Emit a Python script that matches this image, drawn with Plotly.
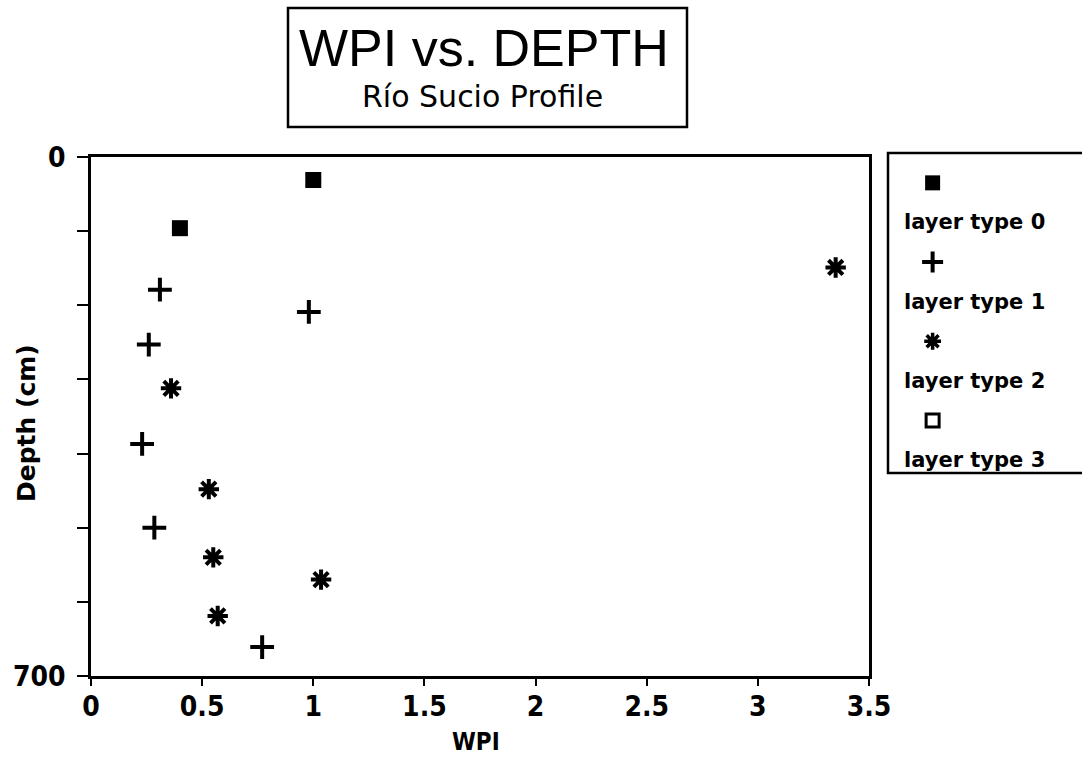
import plotly.graph_objects as go

W, H = 1082, 757

# ---- data (WPI, depth in cm) ----
t0_wpi = [1.00, 0.40]
t0_depth = [31, 96]
t1_wpi = [0.31, 0.98, 0.26, 0.23, 0.285, 0.77]
t1_depth = [179, 209, 253, 387, 500, 661]
t2_wpi = [3.35, 0.36, 0.53, 0.55, 1.035, 0.57]
t2_depth = [149, 312, 448, 540, 570, 619]
t3_wpi = []
t3_depth = []

legend_labels = ["layer type 0", "layer type 1", "layer type 2", "layer type 3"]
x_tickvals = [0, 0.5, 1, 1.5, 2, 2.5, 3, 3.5]
x_ticktext = ["0", "0.5", "1", "1.5", "2", "2.5", "3", "3.5"]
y_tickvals = [0, 100, 200, 300, 400, 500, 600, 700]
y_ticktext = ["0", "", "", "", "", "", "", "700"]

def px(x):
    return x / W

def py(y):
    return 1 - y / H

BOLD = dict(family="DejaVu Sans Condensed, DejaVu Sans", weight="bold", color="black")

fig = go.Figure()

fig.add_trace(go.Scatter(x=t0_wpi, y=t0_depth, mode="markers",
                         marker=dict(symbol="square", size=16, color="black"),
                         showlegend=False))
fig.add_trace(go.Scatter(x=t1_wpi, y=t1_depth, mode="markers",
                         marker=dict(symbol="cross-thin", size=17, color="black",
                                     line=dict(width=4, color="black")),
                         showlegend=False))
fig.add_trace(go.Scatter(x=t2_wpi, y=t2_depth, mode="markers",
                         marker=dict(symbol="asterisk", size=17, color="black",
                                     line=dict(width=4, color="black")),
                         showlegend=False))
fig.add_trace(go.Scatter(x=t3_wpi, y=t3_depth, mode="markers",
                         marker=dict(symbol="square-open", size=14, color="black",
                                     line=dict(width=3, color="black")),
                         showlegend=False))

# ---- manual legend (symbol above label) ----
rows = list(range(len(legend_labels)))
sym_specs = [
    dict(symbol="square", size=15, color="black"),
    dict(symbol="cross-thin", size=15, color="black", line=dict(width=4, color="black")),
    dict(symbol="asterisk", size=14, color="black", line=dict(width=3.5, color="black")),
    dict(symbol="square-open", size=13, color="black", line=dict(width=3, color="black")),
]
for i, spec in zip(rows, sym_specs):
    fig.add_trace(go.Scatter(x=[0.23], y=[i], mode="markers", marker=spec,
                             xaxis="x2", yaxis="y2", showlegend=False, hoverinfo="skip"))

for i, lab in zip(rows, legend_labels):
    fig.add_annotation(x=px(902), y=i + 0.5, xref="paper", yref="y2",
                       text=lab, showarrow=False, xanchor="left", yanchor="middle",
                       font=dict(family="DejaVu Sans", weight="bold", size=21, color="black"))

shapes = [
    # title box
    dict(type="rect", xref="paper", yref="paper",
         x0=px(288), x1=px(687), y0=py(127), y1=py(8),
         line=dict(color="black", width=2.5), fillcolor="rgba(0,0,0,0)"),
    # legend box
    dict(type="rect", xref="paper", yref="paper",
         x0=px(888), x1=px(1100), y0=py(473), y1=py(153),
         line=dict(color="black", width=2.5), fillcolor="rgba(0,0,0,0)"),
]

annotations = [
    dict(x=px(484), y=py(48), xref="paper", yref="paper", text="WPI vs. DEPTH",
         showarrow=False, xanchor="center", yanchor="middle",
         font=dict(family="Liberation Sans", size=52, color="black")),
    dict(x=px(482), y=py(96), xref="paper", yref="paper", text="Río Sucio Profile",
         showarrow=False, xanchor="center", yanchor="middle",
         font=dict(family="DejaVu Sans", size=30, color="black")),
    dict(x=px(476), y=py(742), xref="paper", yref="paper", text="WPI",
         showarrow=False, xanchor="center", yanchor="middle",
         font=dict(size=24, **BOLD)),
    dict(x=px(26), y=py(423), xref="paper", yref="paper", text="Depth (cm)",
         showarrow=False, xanchor="center", yanchor="middle", textangle=-90,
         font=dict(family="DejaVu Sans", weight="bold", size=25, color="black")),
]
for a in annotations:
    fig.add_annotation(**a)

fig.update_layout(
    width=W, height=H,
    margin=dict(l=0, r=0, t=0, b=0, pad=0, autoexpand=False),
    paper_bgcolor="white", plot_bgcolor="white",
    shapes=shapes,
    xaxis=dict(domain=[px(91), px(869)], range=[0, 3.5], tickvals=x_tickvals,
               ticktext=x_ticktext, ticks="outside", ticklen=7, tickwidth=2,
               tickcolor="black", showline=True, linecolor="black", linewidth=2.5,
               mirror=True, showgrid=False, zeroline=False, ticklabelstandoff=-3,
               tickfont=dict(size=28, **BOLD)),
    yaxis=dict(domain=[py(676), py(157)], range=[700, 0], tickvals=y_tickvals,
               ticktext=y_ticktext, ticks="outside", ticklen=11, tickwidth=2,
               tickcolor="black", showline=True, linecolor="black", linewidth=2.5,
               mirror=True, showgrid=False, zeroline=False, ticklabelstandoff=6,
               tickfont=dict(size=28, **BOLD)),
    xaxis2=dict(domain=[px(888), 1.0], range=[0, 1], visible=False, fixedrange=True),
    yaxis2=dict(domain=[py(473), py(153)], range=[3.664, -0.377], visible=False,
                fixedrange=True),
)

fig.write_html("out.html")
